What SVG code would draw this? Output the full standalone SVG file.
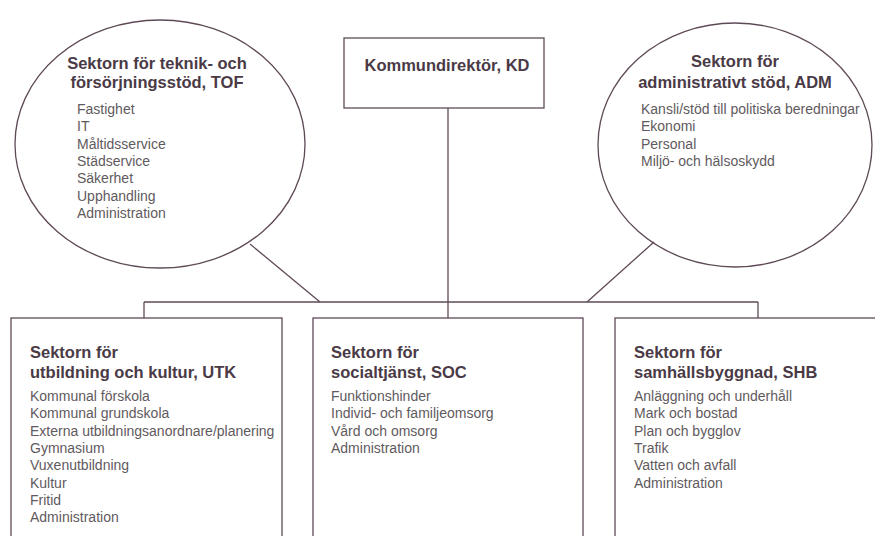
<svg xmlns="http://www.w3.org/2000/svg" width="875" height="536" viewBox="0 0 875 536">
<style>
.shape{fill:none;stroke:#5e4a57;stroke-width:1.3}
.conn{fill:none;stroke:#5e4a57;stroke-width:1.3}
.title{font-family:"Liberation Sans",Arial,sans-serif;font-weight:bold;font-size:16.5px;fill:#4a3a46}
.item{font-family:"Liberation Sans",Arial,sans-serif;font-size:14px;fill:#5f5a5e}
</style>
<rect width="875" height="536" fill="#ffffff"/>
<g id="connectors">
<line class="conn" x1="448" y1="108" x2="448" y2="318"/>
<line class="conn" x1="144" y1="302" x2="758" y2="302"/>
<line class="conn" x1="144" y1="302" x2="144" y2="318"/>
<line class="conn" x1="758" y1="302" x2="758" y2="318"/>
<line class="conn" x1="250" y1="244" x2="320" y2="302"/>
<line class="conn" x1="654" y1="242" x2="587" y2="302"/>
</g>
<g id="kd">
<rect class="shape" x="344" y="38" width="200" height="70"/>
<text class="title" x="447" y="71" text-anchor="middle">Kommundirektör, KD</text>
</g>
<g id="tof">
<ellipse class="shape" cx="160" cy="144" rx="145" ry="124"/>
<text class="title" x="157" y="69" text-anchor="middle">Sektorn för teknik- och</text>
<text class="title" x="157" y="88" text-anchor="middle">försörjningsstöd, TOF</text>
<text class="item" x="77" y="114">Fastighet</text>
<text class="item" x="77" y="131.3">IT</text>
<text class="item" x="77" y="148.6">Måltidsservice</text>
<text class="item" x="77" y="165.9">Städservice</text>
<text class="item" x="77" y="183.2">Säkerhet</text>
<text class="item" x="77" y="200.5">Upphandling</text>
<text class="item" x="77" y="217.8">Administration</text>
</g>
<g id="adm">
<ellipse class="shape" cx="735" cy="145" rx="137" ry="122"/>
<text class="title" x="735" y="67" text-anchor="middle">Sektorn för</text>
<text class="title" x="735" y="88" text-anchor="middle">administrativt stöd, ADM</text>
<text class="item" x="641" y="114">Kansli/stöd till politiska beredningar</text>
<text class="item" x="641" y="131.3">Ekonomi</text>
<text class="item" x="641" y="148.6">Personal</text>
<text class="item" x="641" y="165.9">Miljö- och hälsoskydd</text>
</g>
<g id="utk">
<rect class="shape" x="11" y="318" width="271" height="230"/>
<text class="title" x="30" y="358">Sektorn för</text>
<text class="title" x="30" y="378">utbildning och kultur, UTK</text>
<text class="item" x="30" y="401">Kommunal förskola</text>
<text class="item" x="30" y="418.3">Kommunal grundskola</text>
<text class="item" x="30" y="435.6">Externa utbildningsanordnare/planering</text>
<text class="item" x="30" y="452.9">Gymnasium</text>
<text class="item" x="30" y="470.2">Vuxenutbildning</text>
<text class="item" x="30" y="487.5">Kultur</text>
<text class="item" x="30" y="504.8">Fritid</text>
<text class="item" x="30" y="522.1">Administration</text>
</g>
<g id="soc">
<rect class="shape" x="313" y="318" width="270" height="230"/>
<text class="title" x="331" y="358">Sektorn för</text>
<text class="title" x="331" y="378">socialtjänst, SOC</text>
<text class="item" x="331" y="401">Funktionshinder</text>
<text class="item" x="331" y="418.3">Individ- och familjeomsorg</text>
<text class="item" x="331" y="435.6">Vård och omsorg</text>
<text class="item" x="331" y="452.9">Administration</text>
</g>
<g id="shb">
<rect class="shape" x="615" y="318" width="280" height="230"/>
<text class="title" x="634" y="358">Sektorn för</text>
<text class="title" x="634" y="378">samhällsbyggnad, SHB</text>
<text class="item" x="634" y="401">Anläggning och underhåll</text>
<text class="item" x="634" y="418.3">Mark och bostad</text>
<text class="item" x="634" y="435.6">Plan och bygglov</text>
<text class="item" x="634" y="452.9">Trafik</text>
<text class="item" x="634" y="470.2">Vatten och avfall</text>
<text class="item" x="634" y="487.5">Administration</text>
</g>
</svg>
